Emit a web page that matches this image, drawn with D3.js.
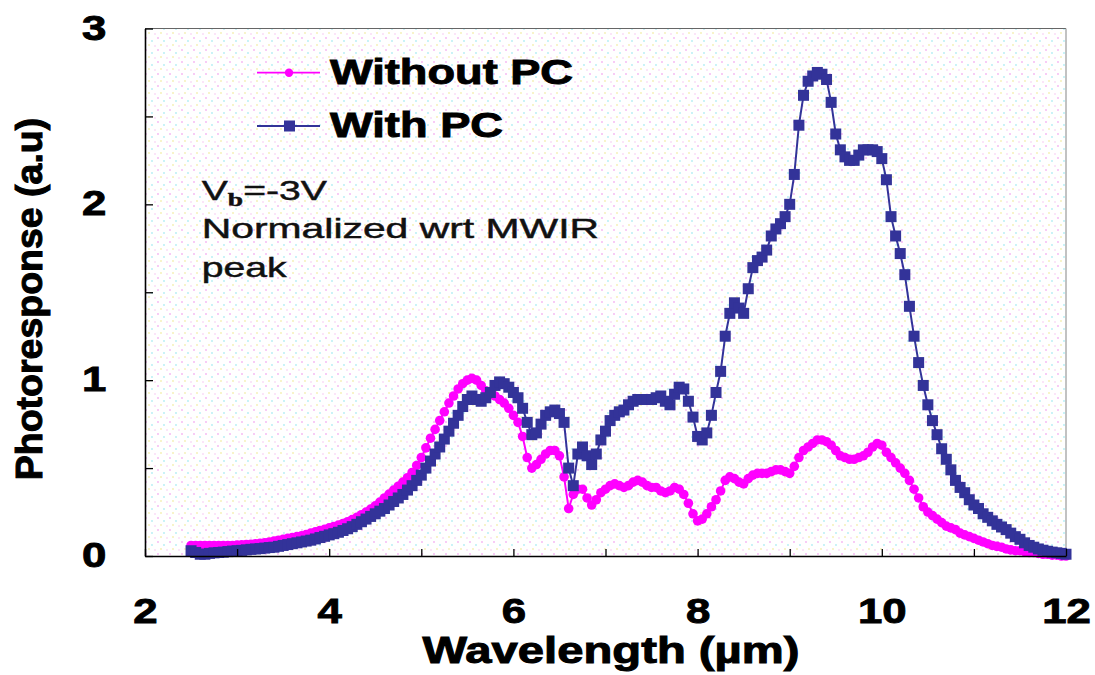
<!DOCTYPE html>
<html><head><meta charset="utf-8">
<script src="https://cdn.jsdelivr.net/npm/d3@7"></script>
<style>
html,body{margin:0;padding:0;background:#fff;}
svg{display:block;font-family:"Liberation Sans",Arial,sans-serif;}
.tick text{transform-box:fill-box;transform-origin:center;transform:scaleX(1.25);}
</style></head><body>
<svg id="chart" width="1095" height="675"></svg>
<script>
// ---------- data ----------
const wavelength = [
 2.50,2.55,2.60,2.65,2.70,2.75,2.80,2.85,2.90,2.95,
 3.00,3.05,3.10,3.15,3.20,3.25,3.30,3.35,3.40,3.45,
 3.50,3.55,3.60,3.65,3.70,3.75,3.80,3.85,3.90,3.95,
 4.00,4.05,4.10,4.15,4.20,4.25,4.30,4.35,4.40,4.45,
 4.50,4.55,4.60,4.65,4.70,4.75,4.80,4.85,4.90,4.95,
 5.00,5.05,5.10,5.15,5.20,5.25,5.30,5.35,5.40,5.45,
 5.50,5.55,5.60,5.65,5.70,5.75,5.80,5.85,5.90,5.95,
 6.00,6.05,6.10,6.15,6.20,6.25,6.30,6.35,6.40,6.45,
 6.50,6.55,6.60,6.65,6.70,6.75,6.80,6.85,6.90,6.95,
 7.00,7.05,7.10,7.15,7.20,7.25,7.30,7.35,7.40,7.45,
 7.50,7.55,7.60,7.65,7.70,7.75,7.80,7.85,7.90,7.95,
 8.00,8.05,8.10,8.15,8.20,8.25,8.30,8.35,8.40,8.45,
 8.50,8.55,8.60,8.65,8.70,8.75,8.80,8.85,8.90,8.95,
 9.00,9.05,9.10,9.15,9.20,9.25,9.30,9.35,9.40,9.45,
 9.50,9.55,9.60,9.65,9.70,9.75,9.80,9.85,9.90,9.95,
 10.00,10.05,10.10,10.15,10.20,10.25,10.30,10.35,10.40,10.45,
 10.50,10.55,10.60,10.65,10.70,10.75,10.80,10.85,10.90,10.95,
 11.00,11.05,11.10,11.15,11.20,11.25,11.30,11.35,11.40,11.45,
 11.50,11.55,11.60,11.65,11.70,11.75,11.80,11.85,11.90,11.95,
 12.00
];
const withoutPC = [
 0.060,0.060,0.060,0.060,0.060,0.060,0.060,0.060,0.060,0.060,
 0.062,0.063,0.065,0.067,0.070,0.072,0.075,0.080,0.085,0.090,
 0.095,0.100,0.105,0.110,0.115,0.122,0.130,0.137,0.145,0.152,
 0.160,0.168,0.176,0.185,0.195,0.207,0.220,0.235,0.250,0.267,
 0.285,0.307,0.330,0.352,0.375,0.397,0.420,0.445,0.475,0.515,
 0.560,0.615,0.670,0.720,0.770,0.820,0.870,0.910,0.950,0.980,
 1.000,1.010,1.000,0.970,0.940,0.920,0.910,0.890,0.870,0.840,
 0.800,0.760,0.680,0.560,0.500,0.520,0.550,0.580,0.600,0.600,
 0.570,0.450,0.270,0.350,0.380,0.380,0.330,0.290,0.320,0.360,
 0.380,0.400,0.410,0.400,0.390,0.400,0.420,0.430,0.420,0.400,
 0.390,0.390,0.370,0.360,0.370,0.390,0.380,0.350,0.300,0.240,
 0.200,0.210,0.240,0.280,0.320,0.370,0.430,0.450,0.440,0.420,
 0.410,0.440,0.460,0.470,0.470,0.470,0.480,0.490,0.490,0.480,
 0.470,0.510,0.560,0.600,0.620,0.640,0.660,0.660,0.650,0.630,
 0.600,0.570,0.560,0.550,0.550,0.560,0.570,0.590,0.620,0.640,
 0.630,0.590,0.560,0.530,0.500,0.470,0.430,0.380,0.330,0.280,
 0.250,0.230,0.210,0.190,0.170,0.160,0.150,0.130,0.120,0.110,
 0.100,0.090,0.080,0.070,0.060,0.055,0.050,0.040,0.035,0.030,
 0.030,0.025,0.020,0.020,0.015,0.010,0.010,0.005,0.005,0.000,
 0.000
];
const withPC = [
 0.030,0.020,0.010,0.010,0.015,0.018,0.020,0.022,0.025,0.028,
 0.030,0.032,0.035,0.038,0.040,0.042,0.045,0.048,0.050,0.055,
 0.060,0.065,0.070,0.075,0.080,0.085,0.090,0.097,0.105,0.112,
 0.120,0.127,0.135,0.145,0.155,0.167,0.180,0.195,0.210,0.225,
 0.240,0.255,0.270,0.290,0.310,0.330,0.350,0.375,0.400,0.430,
 0.460,0.500,0.540,0.580,0.620,0.665,0.710,0.755,0.800,0.850,
 0.890,0.910,0.890,0.880,0.900,0.930,0.970,0.990,0.980,0.960,
 0.930,0.900,0.840,0.760,0.690,0.700,0.750,0.800,0.820,0.830,
 0.810,0.760,0.500,0.400,0.580,0.620,0.570,0.520,0.580,0.660,
 0.710,0.770,0.800,0.820,0.830,0.860,0.880,0.890,0.890,0.890,
 0.890,0.900,0.910,0.880,0.860,0.920,0.960,0.950,0.880,0.790,
 0.680,0.660,0.700,0.800,0.930,1.050,1.250,1.380,1.440,1.410,
 1.380,1.520,1.640,1.680,1.700,1.740,1.820,1.860,1.890,1.930,
 2.000,2.170,2.450,2.620,2.700,2.730,2.750,2.740,2.710,2.580,
 2.400,2.310,2.270,2.250,2.250,2.280,2.310,2.310,2.310,2.300,
 2.260,2.140,1.930,1.820,1.720,1.600,1.420,1.250,1.100,0.970,
 0.860,0.770,0.690,0.610,0.550,0.490,0.430,0.390,0.360,0.320,
 0.290,0.270,0.240,0.220,0.200,0.180,0.165,0.150,0.130,0.110,
 0.095,0.075,0.060,0.050,0.040,0.033,0.027,0.022,0.018,0.015,
 0.010
];
const seriesNames = ["Without PC", "With PC"];
const xTicks = [2,3,4,5,6,7,8,9,10,11,12];
const xTickLabels = ["2","","4","","6","","8","","10","","12"];
const yTicks = [0,0.5,1,1.5,2,2.5,3];
const yTickLabels = ["0","","1","","2","","3"];
const xTitle = "Wavelength (\u00b5m)";
const yTitle = "Photoresponse (a.u)";
const noteLines = ["Normalized wrt MWIR", "peak"];

// ---------- drawing ----------
const svg = d3.select("#chart");
svg.append("rect").attr("width",1095).attr("height",675).attr("fill","#fff");

const x = d3.scaleLinear().domain([2,12]).range([145,1066]);
const y = d3.scaleLinear().domain([0,3]).range([556,28.5]);

const defs = svg.append("defs");
const pat = defs.append("pattern").attr("id","dots").attr("patternUnits","userSpaceOnUse")
  .attr("width",12).attr("height",12);
pat.append("rect").attr("width",12).attr("height",12).attr("fill","#fff");
pat.append("circle").attr("cx",2).attr("cy",2).attr("r",0.9).attr("fill","#f6b4f2");
pat.append("circle").attr("cx",8).attr("cy",5).attr("r",0.9).attr("fill","#b2eef4");
pat.append("circle").attr("cx",5).attr("cy",9).attr("r",0.9).attr("fill","#f4f0b2");
pat.append("circle").attr("cx",11).attr("cy",10).attr("r",0.8).attr("fill","#f6c4f2");

svg.append("rect").attr("x",x(2)).attr("y",y(3)).attr("width",x(12)-x(2)).attr("height",y(0)-y(3))
  .attr("fill","url(#dots)");
svg.append("line").attr("x1",x(2)).attr("x2",x(12)).attr("y1",y(3)).attr("y2",y(3))
  .attr("stroke","#666").attr("stroke-width",1.2);
svg.append("line").attr("x1",x(12)).attr("x2",x(12)).attr("y1",y(3)).attr("y2",y(0))
  .attr("stroke","#999").attr("stroke-width",1.2);

const pts = (vals) => wavelength.map((w,i)=>({w, v: vals[i]}));
const line = d3.line().x(d=>x(d.w)).y(d=>y(d.v));

// Without PC (magenta)
const gM = svg.append("g");
gM.append("path").datum(pts(withoutPC)).attr("d",line).attr("fill","none")
  .attr("stroke","#ff00ff").attr("stroke-width",2);
gM.selectAll("circle").data(pts(withoutPC)).join("circle")
  .attr("cx",d=>x(d.w)).attr("cy",d=>y(d.v)).attr("r",4.8).attr("fill","#ff00ff");

// With PC (navy)
const gB = svg.append("g");
gB.append("path").datum(pts(withPC)).attr("d",line).attr("fill","none")
  .attr("stroke","#333399").attr("stroke-width",2);
gB.selectAll("rect").data(pts(withPC)).join("rect")
  .attr("x",d=>x(d.w)-5.5).attr("y",d=>y(d.v)-5.5).attr("width",11).attr("height",11)
  .attr("fill","#333399");

// axes
const yAxis = d3.axisLeft(y).tickValues(yTicks).tickSizeInner(-8).tickSizeOuter(0)
  .tickPadding(41).tickFormat((d,i)=>yTickLabels[i]);
const gy = svg.append("g").attr("transform",`translate(${x(2)},0)`).call(yAxis);
gy.select(".domain").attr("stroke","#000").attr("stroke-width",1.6);
gy.selectAll(".tick line").attr("stroke","#000").attr("stroke-width",1.3);
gy.selectAll(".tick text").attr("font-size",35).attr("font-weight","bold")
  .attr("font-family","'Liberation Sans',Arial,sans-serif").attr("fill","#000")
  .attr("stroke","#000").attr("stroke-width",0.9).attr("dy","0.3em");

const xAxis = d3.axisBottom(x).tickValues(xTicks).tickSizeInner(-7).tickSizeOuter(0)
  .tickPadding(42).tickFormat((d,i)=>xTickLabels[i]);
const gx = svg.append("g").attr("transform",`translate(0,${y(0)})`).call(xAxis);
gx.select(".domain").attr("stroke","#000").attr("stroke-width",1.6);
gx.selectAll(".tick line").attr("stroke","#000").attr("stroke-width",1.3);
gx.selectAll(".tick text").attr("font-size",35).attr("font-weight","bold")
  .attr("font-family","'Liberation Sans',Arial,sans-serif").attr("fill","#000")
  .attr("stroke","#000").attr("stroke-width",0.9);

// axis titles
svg.append("text").attr("x",611).attr("y",663).attr("text-anchor","middle")
  .attr("font-size",37.5).attr("font-weight","bold").attr("fill","#000")
  .attr("stroke","#000").attr("stroke-width",1)
  .attr("textLength",377).attr("lengthAdjust","spacingAndGlyphs").text(xTitle);
svg.append("text").attr("transform","translate(42,299) rotate(-90)").attr("text-anchor","middle")
  .attr("font-size",37.5).attr("font-weight","bold").attr("fill","#000")
  .attr("stroke","#000").attr("stroke-width",1).text(yTitle);

// legend
const legendColors = ["#ff00ff","#333399"];
const legendY = [72.7, 126];
const legendTextW = [243, 173];
seriesNames.forEach((name,i)=>{
  const g = svg.append("g");
  g.append("line").attr("x1",257).attr("x2",320).attr("y1",legendY[i]).attr("y2",legendY[i])
    .attr("stroke",legendColors[i]).attr("stroke-width",1.8);
  if(i===0){
    g.append("circle").attr("cx",289).attr("cy",legendY[i]).attr("r",4.2).attr("fill",legendColors[i]);
  } else {
    g.append("rect").attr("x",284).attr("y",legendY[i]-5.5).attr("width",11).attr("height",11).attr("fill",legendColors[i]);
  }
  g.append("text").attr("x",330).attr("y",legendY[i]+11).attr("font-size",35).attr("font-weight","bold")
    .attr("fill","#000").attr("stroke","#000").attr("stroke-width",0.9)
    .attr("textLength",legendTextW[i]).attr("lengthAdjust","spacingAndGlyphs").text(name);
});

// annotation
const gn = svg.append("g").attr("transform","translate(201.7,200) scale(1.45,1)");
const t1 = gn.append("text").attr("x",0).attr("y",0).attr("font-size",27).attr("fill","#111")
  .attr("stroke","#111").attr("stroke-width",0.45);
t1.append("tspan").text("V");
t1.append("tspan").attr("font-size",19).attr("font-family","'Liberation Serif',serif").attr("font-weight","bold")
  .attr("dy",6).text("b");
t1.append("tspan").attr("dy",-6).text("=-3V");
gn.append("text").attr("x",0).attr("y",38.3).attr("font-size",27).attr("fill","#111")
  .attr("stroke","#111").attr("stroke-width",0.45)
  .attr("textLength",274).attr("lengthAdjust","spacingAndGlyphs").text(noteLines[0]);
gn.append("text").attr("x",0).attr("y",76.7).attr("font-size",27).attr("fill","#111")
  .attr("stroke","#111").attr("stroke-width",0.45)
  .attr("textLength",58.6).attr("lengthAdjust","spacingAndGlyphs").text(noteLines[1]);
</script>
</body></html>
